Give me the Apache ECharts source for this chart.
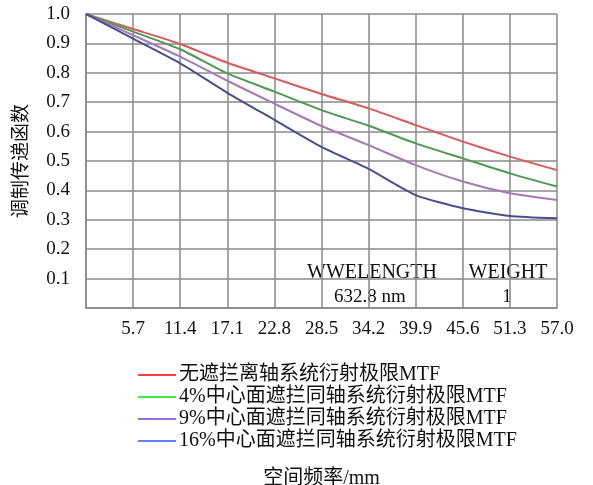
<!DOCTYPE html>
<html><head><meta charset="utf-8">
<script src="https://cdn.jsdelivr.net/npm/echarts@6/dist/echarts.min.js"></script>
<style>html,body{margin:0;padding:0;background:#fff}#c{width:593px;height:485px}</style>
</head><body><div id="c"></div>
<script>
const freq = [0, 5.7, 11.4, 17.1, 22.8, 28.5, 34.2, 39.9, 45.6, 51.3, 57.0];
const xTickLabels = ['5.7','11.4','17.1','22.8','28.5','34.2','39.9','45.6','51.3','57.0'];
const seriesNames = ['无遮拦离轴系统衍射极限MTF','4%中心面遮拦同轴系统衍射极限MTF','9%中心面遮拦同轴系统衍射极限MTF','16%中心面遮拦同轴系统衍射极限MTF'];
const mtf0  = [1.0, 0.949, 0.898, 0.834, 0.781, 0.728, 0.679, 0.622, 0.566, 0.515, 0.469];
const mtf4  = [1.0, 0.940, 0.880, 0.798, 0.736, 0.673, 0.620, 0.560, 0.509, 0.458, 0.413];
const mtf9  = [1.0, 0.928, 0.855, 0.773, 0.695, 0.619, 0.554, 0.486, 0.430, 0.390, 0.367];
const mtf16 = [1.0, 0.916, 0.832, 0.732, 0.640, 0.548, 0.473, 0.384, 0.339, 0.313, 0.305];
const lineColors = ['#d95a5a','#4e9a52','#a77ab5','#47508f'];
const legendColors = ['#ff0000','#00e000','#6a3fd0','#3050ff'];

const fontFam = '"Liberation Serif","Noto Sans CJK SC",serif';
const FS = 19, FL = 20;
const all = [mtf0, mtf4, mtf9, mtf16];
const chart = echarts.init(document.getElementById('c'));
chart.setOption({
  animation:false,
  textStyle:{fontFamily:fontFam},
  grid:{left:86, top:14, width:471, height:294, containLabel:false, outerBoundsMode:'none'},
  xAxis:{type:'value', min:0, max:57, interval:5.7,
    axisLine:{show:true, lineStyle:{color:'#8a8a8a', width:1.5}},
    axisTick:{show:false},
    splitLine:{show:true, lineStyle:{color:'#8a8a8a', width:1.5}},
    axisLabel:{color:'#111', fontSize:FS, fontFamily:fontFam, margin:12,
      formatter:function(v){const i=Math.round(v/5.7); return i===0?'':xTickLabels[i-1];}},
    name:'空间频率/mm', nameLocation:'middle', nameGap:161,
    nameTextStyle:{color:'#111', fontSize:FL, fontFamily:fontFam}
  },
  yAxis:{type:'value', min:0, max:1, interval:0.1,
    axisLine:{show:true, lineStyle:{color:'#8a8a8a', width:1.5}},
    axisTick:{show:false},
    splitLine:{show:true, lineStyle:{color:'#8a8a8a', width:1.5}},
    axisLabel:{color:'#111', fontSize:FS, fontFamily:fontFam, margin:16,
      formatter:function(v){return v===0?'':v.toFixed(1);}},
    name:'调制传递函数', nameLocation:'middle', nameGap:54,
    nameTextStyle:{color:'#111', fontSize:FS, fontFamily:fontFam}
  },
  legend:{orient:'vertical', left:133, top:360, itemWidth:38, itemHeight:10, itemGap:2,
    icon:'path://M0,4L38,4L38,5.5L0,5.5Z',
    textStyle:{color:'#111', fontSize:FL, fontFamily:fontFam, padding:[0,0,0,-2]},
    data: seriesNames.map((n,i)=>({name:n, itemStyle:{color:legendColors[i]}}))
  },
  graphic:[
    {type:'text', style:{text:'WWELENGTH', x:372, y:273, align:'center', verticalAlign:'middle', font:FL+'px '+fontFam, fill:'#111'}},
    {type:'text', style:{text:'WEIGHT', x:508, y:273, align:'center', verticalAlign:'middle', font:FL+'px '+fontFam, fill:'#111'}},
    {type:'text', style:{text:'632.8 nm', x:370, y:297, align:'center', verticalAlign:'middle', font:FS+'px '+fontFam, fill:'#111'}},
    {type:'text', style:{text:'1', x:507, y:297, align:'center', verticalAlign:'middle', font:FS+'px '+fontFam, fill:'#111'}}
  ],
  series: all.map((d,i)=>({
    name:seriesNames[i], type:'line', smooth:0.2, symbol:'none',
    lineStyle:{color:lineColors[i], width:2},
    itemStyle:{color:lineColors[i]},
    data: freq.map((f,j)=>[f,d[j]])
  }))
});
</script></body></html>
